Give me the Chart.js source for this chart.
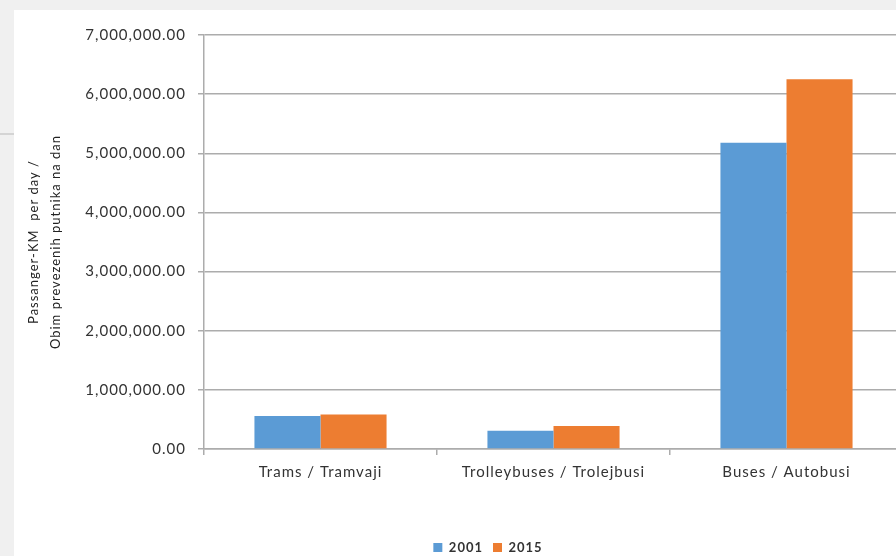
<!DOCTYPE html>
<html>
<head>
<meta charset="utf-8">
<script src="https://cdn.jsdelivr.net/npm/chart.js@4/dist/chart.umd.min.js"></script>
<style>
  html, body { margin: 0; padding: 0; }
  body { width: 896px; height: 556px; overflow: hidden; background: #f0f0f0; position: relative; }
  #card { position: absolute; left: 14px; top: 10px; width: 882px; height: 546px; background: #fff; overflow: hidden; }
  #edge { position: absolute; left: 0; top: 133px; width: 14px; height: 2px; background: #d4d4d4; }
  #wrap { position: absolute; left: 0; top: 0; width: 948px; height: 554px; }
</style>
</head>
<body>
<div id="edge"></div>
<div id="card">
  <div id="wrap"><canvas id="chart" width="948" height="554"></canvas></div>
</div>
<script>
const categories = ["Trams / Tramvaji", "Trolleybuses / Trolejbusi", "Buses / Autobusi"];
const years = ["2001", "2015"];
const values2001 = [560000, 310000, 5180000];
const values2015 = [585000, 390000, 6250000];
const axisTitle = ["Passanger-KM  per day /", "Obim prevezenih putnika na dan"];

const font = "Lato, 'Open Sans', sans-serif";
const gridColor = "#acacac";

// wider letter spacing, like the original Excel export
const spacing = {
    id: "spacing",
    beforeLayout(chart) { chart.ctx.letterSpacing = "1px"; },
    beforeDraw(chart) { chart.ctx.letterSpacing = "1px"; }
};

const dane = {
    labels: categories,
    datasets: [
        { label: years[0], data: values2001, backgroundColor: "#5b9bd5",
          categoryPercentage: 0.567, barPercentage: 1 },
        { label: years[1], data: values2015, backgroundColor: "#ed7d31",
          categoryPercentage: 0.567, barPercentage: 1 }
    ]
};

const options = {
    responsive: false,
    animation: false,
    layout: { padding: { top: 25, right: 59, bottom: 0, left: 59 } },
    plugins: {
        legend: {
            position: "bottom",
            labels: { boxWidth: 9, boxHeight: 9, padding: 10, color: "#333",
                      font: { family: font, size: 13, weight: "bold" } }
        },
        tooltip: { enabled: false }
    },
    scales: {
        x: {
            grid: { drawOnChartArea: false, drawTicks: true, tickLength: 6, color: gridColor, lineWidth: 1.5 },
            border: { color: gridColor, width: 1.5 },
            ticks: { color: "#333", padding: 8, font: { family: font, size: 15 } },
            afterFit: function (scale) { scale.height = 82; }
        },
        y: {
            min: 0,
            max: 7000000,
            grid: { color: gridColor, lineWidth: 1.5, tickLength: 6 },
            border: { color: gridColor, width: 1.5 },
            ticks: {
                stepSize: 1000000,
                color: "#333",
                padding: 12,
                font: { family: font, size: 15 },
                callback: function (v) {
                    return v.toLocaleString("en-US", { minimumFractionDigits: 2, maximumFractionDigits: 2 });
                }
            },
            title: {
                display: true,
                text: axisTitle,
                color: "#222",
                padding: { top: -51, bottom: 0 },
                font: { family: font, size: 13, lineHeight: 1.75 }
            },
            afterFit: function (scale) { scale.width = 131; }
        }
    }
};

const ctx = document.getElementById("chart").getContext("2d");
const chart = new Chart(ctx, { type: "bar", data: dane, options: options, plugins: [spacing] });
</script>
</body>
</html>
